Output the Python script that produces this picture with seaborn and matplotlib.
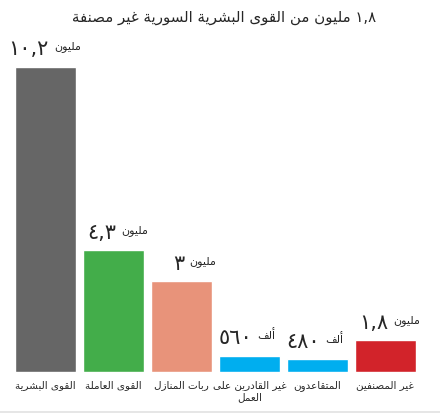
import re
import matplotlib
matplotlib.use('Agg')
import matplotlib.pyplot as plt
import seaborn as sns
import pandas as pd
from matplotlib.patches import Rectangle

# data (bar heights in millions as drawn)
categories = ['القوى البشرية', 'القوى العاملة', 'ربات المنازل',
              'غير القادرين على\nالعمل', 'المتقاعدون', 'غير المصنفين']
heights = [10.2, 4.08, 3.04, 0.555, 0.445, 1.08]
value_text = ['١٠,٢', '٤,٣', '٣', '٥٦٠', '٤٨٠', '١,٨']
unit_text = ['مليون', 'مليون', 'مليون', 'ألف', 'ألف', 'مليون']
colors = ['#666666', '#43ad4a', '#e8937a', '#00aeef', '#00aeef', '#d2232a']
title = '١,٨ مليون من القوى البشرية السورية غير مصنفة'

# minimal arabic shaping (matplotlib has no complex text layout)
DUAL = {'ئ': 0xFE89, 'ب': 0xFE8F, 'ت': 0xFE95, 'ث': 0xFE99, 'ج': 0xFE9D, 'ح': 0xFEA1,
        'خ': 0xFEA5, 'س': 0xFEB1, 'ش': 0xFEB5, 'ص': 0xFEB9, 'ض': 0xFEBD, 'ط': 0xFEC1,
        'ظ': 0xFEC5, 'ع': 0xFEC9, 'غ': 0xFECD, 'ف': 0xFED1, 'ق': 0xFED5, 'ك': 0xFED9,
        'ل': 0xFEDD, 'م': 0xFEE1, 'ن': 0xFEE5, 'ه': 0xFEE9, 'ي': 0xFEF1}
RIGHT = {'آ': 0xFE81, 'أ': 0xFE83, 'ؤ': 0xFE85, 'إ': 0xFE87, 'ا': 0xFE8D, 'ة': 0xFE93,
         'د': 0xFEA9, 'ذ': 0xFEAB, 'ر': 0xFEAD, 'ز': 0xFEAF, 'و': 0xFEED, 'ى': 0xFEEF}
LAM_ALEF = {'آ': 0xFEF5, 'أ': 0xFEF7, 'إ': 0xFEF9, 'ا': 0xFEFB}


def shape(text):
    chars = []
    i = 0
    while i < len(text):
        c = text[i]
        if c == 'ل' and i + 1 < len(text) and text[i + 1] in LAM_ALEF:
            chars.append(('LA', LAM_ALEF[text[i + 1]]))
            i += 2
        else:
            chars.append((c, None))
            i += 1
    out = []
    for k, (c, la) in enumerate(chars):
        prev = chars[k - 1][0] if k > 0 else None
        nxt = chars[k + 1][0] if k + 1 < len(chars) else None
        jp = prev in DUAL
        if la is not None:
            out.append(chr(la + int(jp)))
        elif c in DUAL:
            jn = nxt in DUAL or nxt in RIGHT or nxt == 'LA'
            form = {(False, False): 0, (True, False): 1, (False, True): 2, (True, True): 3}[(jp, jn)]
            out.append(chr(DUAL[c] + form))
        elif c in RIGHT:
            out.append(chr(RIGHT[c] + int(jp)))
        else:
            out.append(c)
    return ''.join(out)


def rtl(text):
    lines = []
    for line in text.split('\n'):
        tokens = re.findall(r'[0-9٠-٩,]+|[^0-9٠-٩,]+', shape(line))
        lines.append(''.join(t if re.match(r'[0-9٠-٩,]', t) else t[::-1] for t in reversed(tokens)))
    return '\n'.join(lines)


labels = [rtl(c) for c in categories]
df = pd.DataFrame({'cat': labels, 'val': heights})

sns.set_style('white')
plt.rcParams['font.family'] = ['DejaVu Sans']

fig = plt.figure(figsize=(4.4, 4.14), dpi=100)
ax = fig.add_axes([0.026, 0.0983, 0.927, 0.8684])
sns.barplot(data=df, x='cat', y='val', hue='cat', palette=colors, width=0.9,
            saturation=1, legend=False, ax=ax)
ax.set_ylim(0, 12)
ax.set_xlim(-0.5, 5.5)
ax.set_xlabel('')
ax.set_ylabel('')
ax.set_yticks([])
ax.tick_params(axis='x', length=0, pad=5, labelsize=7.5)
sns.despine(ax=ax, left=True, bottom=True)

for i, h in enumerate(heights):
    ax.annotate(value_text[i], (i, h), xytext=(2, 6), textcoords='offset points',
                ha='right', va='bottom', fontsize=15)
    ax.annotate(rtl(unit_text[i]), (i, h), xytext=(6, 11), textcoords='offset points',
                ha='left', va='bottom', fontsize=8)

fig.text(0.51, 0.958, rtl(title), ha='center', va='center', fontsize=10.8)
fig.add_artist(Rectangle((0, 0), 1, 2.5 / 414, transform=fig.transFigure,
                         color='#e6e6e6', lw=0))

fig.savefig('out.png', dpi=100)
